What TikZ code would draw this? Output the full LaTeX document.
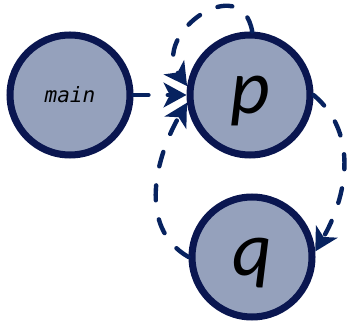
\documentclass[tikz,border=0pt]{standalone}
\usepackage{fontspec}
\usepackage{tikz}
\usetikzlibrary{arrows.meta}
\newfontfamily\labelfont{Carlito}
\newfontfamily\codefont{DejaVu Sans Mono}
\definecolor{nodefill}{HTML}{95A1BC}
\definecolor{nodeline}{HTML}{0A1650}
\definecolor{edgeline}{HTML}{07225F}

\begin{document}
\begin{tikzpicture}[x=0.02cm, y=0.02cm,
    state/.style={circle, draw=nodeline, fill=nodefill, line width=4pt,
        minimum size=2.4cm, inner sep=0pt},
    var/.style={state, text depth=0pt, font=\labelfont\itshape\fontsize{44}{48}\selectfont},
    call/.style={draw=edgeline, line width=2.5pt, line cap=round,
        dash pattern=on 8.5pt off 11pt,
        -{Stealth[length=13pt, width=14pt, inset=3.5pt]}}]
    \useasboundingbox (0,0) rectangle (347,324);
    \node[state] (main) at (70,229) {\codefont\itshape\fontsize{12}{14}\selectfont main};
    \node[var] (p) at (250,229) {p};
    \node[var] (q) at (252,67) {q};
    \draw[call] (main) -- (p);
    \draw[call] (p.88) to[out=100, in=125, looseness=1.9] (p.172);
    \draw[call] (p.east) to[out=-40, in=60] (q.5);
    \draw[call] (q.west) to[out=150, in=240] (p.187);
\end{tikzpicture}
\end{document}
